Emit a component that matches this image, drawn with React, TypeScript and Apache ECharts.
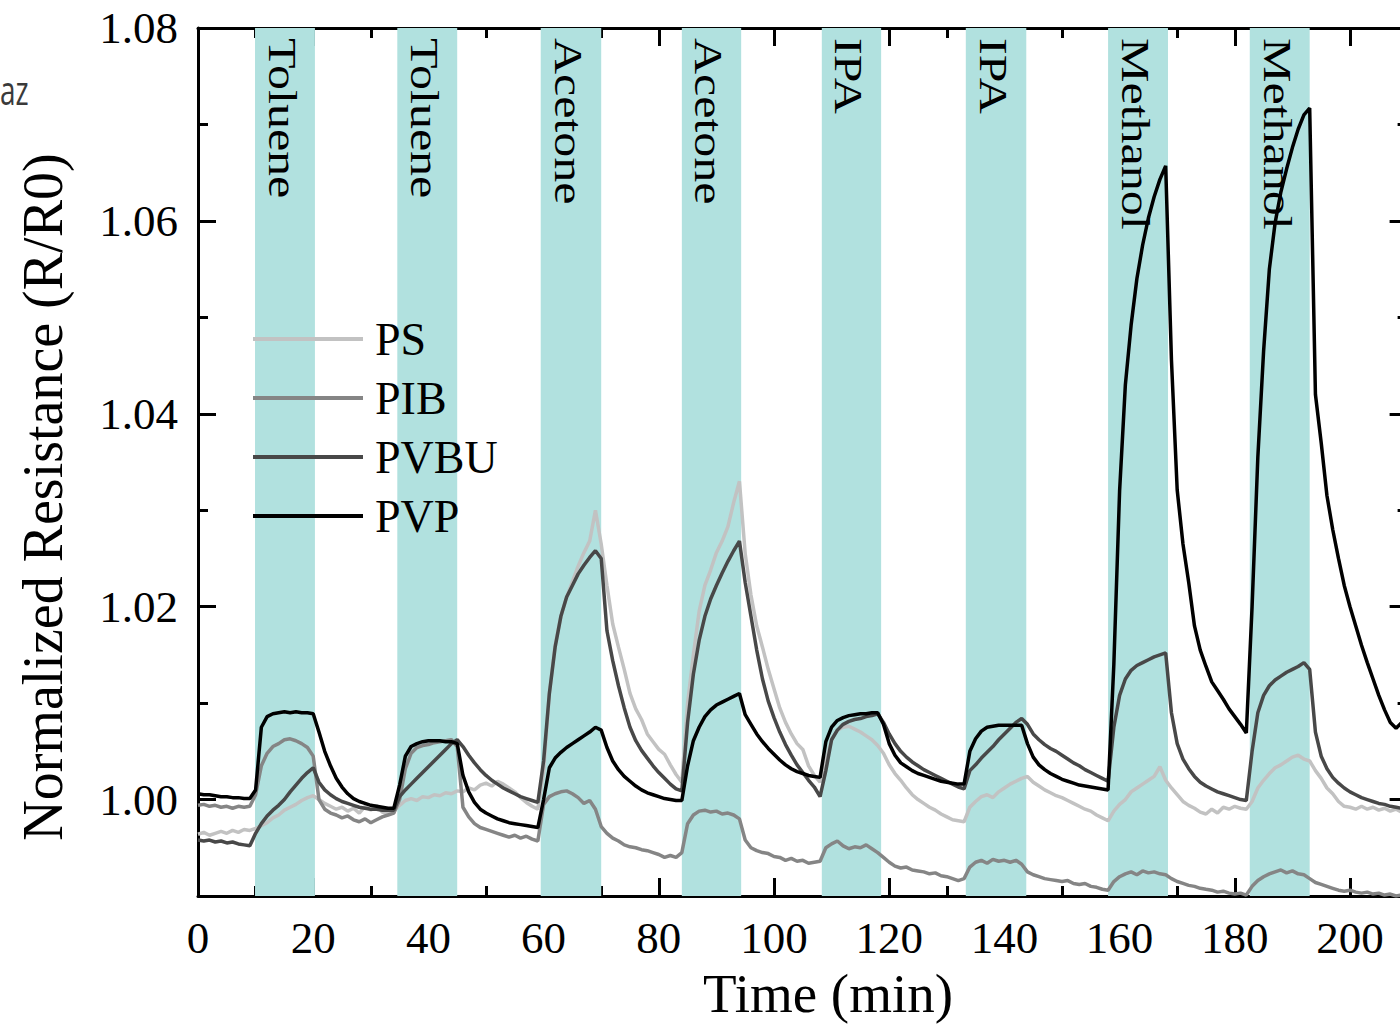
import React, { useEffect, useRef } from 'react';
import * as echarts from 'echarts';

// Time axis (min), one sample per minute
const TIME: number[] = Array.from({ length: 211 }, (_, i) => i);

// PS (light grey)
const PS = [
  0.9964, 0.9966, 0.9963, 0.9965, 0.9967, 0.9965, 0.9968, 0.9966, 0.9969, 0.9968,
  0.9970, 0.9973, 0.9976, 0.9981, 0.9984, 0.9989, 0.9992, 0.9995, 0.9999, 1.0002,
  1.0004, 1.0000, 0.9996, 0.9993, 0.9990, 0.9992, 0.9988, 0.9991, 0.9986, 0.9993,
  0.9989, 0.9994, 0.9987, 0.9985, 0.9988, 0.9994, 0.9999, 1.0001, 0.9999, 1.0003,
  1.0002, 1.0005, 1.0004, 1.0007, 1.0006, 1.0009, 1.0008, 1.0012, 1.0010, 1.0015,
  1.0017, 1.0014, 1.0019, 1.0016, 1.0012, 1.0008, 1.0002, 0.9997, 0.9993, 0.9990,
  1.0030, 1.0110, 1.0160, 1.0190, 1.0210, 1.0226, 1.0242, 1.0256, 1.0268, 1.0300,
  1.0265, 1.0222, 1.0182, 1.0158, 1.0135, 1.0110, 1.0094, 1.0083, 1.0068, 1.0060,
  1.0052, 1.0047, 1.0036, 1.0026, 1.0018, 1.0100, 1.0150, 1.0195, 1.0222, 1.0238,
  1.0256, 1.0268, 1.0283, 1.0308, 1.0330, 1.0255, 1.0212, 1.0180, 1.0158, 1.0135,
  1.0115, 1.0095, 1.0080, 1.0068, 1.0058, 1.0052, 1.0035, 1.0025, 1.0018, 1.0040,
  1.0062, 1.0072, 1.0075, 1.0076, 1.0073, 1.0070, 1.0066, 1.0062, 1.0056, 1.0048,
  1.0036, 1.0027, 1.0020, 1.0012, 1.0005, 1.0000, 0.9996, 0.9992, 0.9989, 0.9985,
  0.9982, 0.9979, 0.9978, 0.9977, 0.9992, 0.9998, 1.0003, 1.0005, 1.0002, 1.0008,
  1.0012, 1.0016, 1.0019, 1.0022, 1.0024, 1.0018, 1.0014, 1.0010, 1.0007, 1.0004,
  1.0002, 0.9999, 0.9996, 0.9993, 0.9990, 0.9988, 0.9984, 0.9981, 0.9978, 0.9988,
  0.9995, 1.0000, 1.0008, 1.0012, 1.0016, 1.0020, 1.0024, 1.0034, 1.0020, 1.0012,
  1.0005, 0.9998, 0.9994, 0.9991, 0.9987, 0.9985, 0.9990, 0.9986, 0.9992, 0.9990,
  0.9993, 0.9991, 0.9990, 0.9998, 1.0012, 1.0020, 1.0027, 1.0033, 1.0036, 1.0040,
  1.0044, 1.0046, 1.0042, 1.0040, 1.0030, 1.0022, 1.0012, 1.0006, 0.9998, 0.9993,
  0.9992, 0.9990, 0.9993, 0.9990, 0.9992, 0.9989, 0.9991, 0.9988, 0.9990, 0.9987,
  0.9988,
];

// PIB (mid grey)
const PIB = [
  0.9994, 0.9995, 0.9993, 0.9994, 0.9992, 0.9993, 0.9991, 0.9993, 0.9992, 0.9993,
  1.0005, 1.0035, 1.0048, 1.0055, 1.0058, 1.0062, 1.0063, 1.0061, 1.0058, 1.0054,
  1.0045, 1.0000, 0.9990, 0.9986, 0.9984, 0.9981, 0.9983, 0.9979, 0.9977, 0.9980,
  0.9976, 0.9979, 0.9982, 0.9984, 0.9986, 1.0000, 1.0032, 1.0048, 1.0054, 1.0056,
  1.0057, 1.0059, 1.0060, 1.0061, 1.0062, 1.0055, 0.9992, 0.9982, 0.9975, 0.9971,
  0.9969, 0.9967, 0.9965, 0.9963, 0.9961, 0.9963, 0.9960, 0.9962, 0.9959, 0.9957,
  0.9995, 1.0003, 1.0006, 1.0008, 1.0009, 1.0006, 1.0002, 0.9996, 0.9999, 0.9990,
  0.9972, 0.9965, 0.9960, 0.9957, 0.9953, 0.9951, 0.9950, 0.9948, 0.9947, 0.9945,
  0.9943, 0.9940, 0.9942, 0.9940, 0.9945, 0.9975, 0.9984, 0.9988, 0.9989, 0.9987,
  0.9988, 0.9985, 0.9986, 0.9984, 0.9980, 0.9958, 0.9950, 0.9947, 0.9945, 0.9944,
  0.9941, 0.9940, 0.9937, 0.9939, 0.9936, 0.9937, 0.9934, 0.9935, 0.9936, 0.9950,
  0.9954, 0.9957, 0.9952, 0.9949, 0.9951, 0.9950, 0.9953, 0.9949, 0.9945, 0.9940,
  0.9935, 0.9931, 0.9929, 0.9930, 0.9927, 0.9926, 0.9925, 0.9923, 0.9924, 0.9921,
  0.9920, 0.9918, 0.9916, 0.9918, 0.9930, 0.9935, 0.9937, 0.9934, 0.9938, 0.9936,
  0.9937, 0.9935, 0.9937, 0.9933, 0.9925, 0.9922, 0.9920, 0.9918, 0.9917, 0.9916,
  0.9915, 0.9916, 0.9913, 0.9912, 0.9913, 0.9910, 0.9909, 0.9907, 0.9906, 0.9915,
  0.9920, 0.9923, 0.9925, 0.9922, 0.9926, 0.9924, 0.9925, 0.9923, 0.9922, 0.9918,
  0.9915, 0.9913, 0.9911, 0.9910, 0.9908, 0.9907, 0.9906, 0.9904, 0.9905, 0.9903,
  0.9902, 0.9903, 0.9901, 0.9910, 0.9916, 0.9920, 0.9923, 0.9925, 0.9927, 0.9924,
  0.9926, 0.9923, 0.9922, 0.9918, 0.9914, 0.9912, 0.9910, 0.9908, 0.9906, 0.9905,
  0.9906, 0.9904, 0.9903, 0.9904, 0.9902, 0.9903, 0.9901, 0.9902, 0.9900, 0.9901,
  0.9900,
];

// PVBU (dark grey)
const PVBU = [
  0.9958, 0.9957, 0.9958, 0.9956, 0.9957, 0.9955, 0.9956, 0.9954, 0.9953, 0.9952,
  0.9965, 0.9975, 0.9983, 0.9989, 0.9994, 1.0000, 1.0008, 1.0015, 1.0022, 1.0028,
  1.0033, 1.0018, 1.0010, 1.0005, 1.0001, 0.9998, 0.9996, 0.9994, 0.9992, 0.9991,
  0.9990, 0.9990, 0.9989, 0.9989, 0.9989, 1.0003, 1.0010, 1.0016, 1.0022, 1.0028,
  1.0034, 1.0040, 1.0046, 1.0052, 1.0058, 1.0062, 1.0055, 1.0046, 1.0038, 1.0031,
  1.0025, 1.0020, 1.0016, 1.0012, 1.0009, 1.0006, 1.0003, 1.0001, 0.9999, 0.9997,
  1.0040, 1.0110, 1.0158, 1.0190, 1.0210, 1.0222, 1.0234, 1.0243, 1.0251, 1.0258,
  1.0250, 1.0175, 1.0144, 1.0118, 1.0095, 1.0075, 1.0061, 1.0051, 1.0043, 1.0035,
  1.0028, 1.0022, 1.0016, 1.0011, 1.0009, 1.0080, 1.0130, 1.0165, 1.0190, 1.0208,
  1.0222, 1.0235, 1.0247, 1.0258, 1.0268, 1.0225, 1.0190, 1.0155, 1.0125, 1.0102,
  1.0085, 1.0070, 1.0057, 1.0046, 1.0036, 1.0028, 1.0020, 1.0013, 1.0003, 1.0030,
  1.0062, 1.0072, 1.0078, 1.0081, 1.0083, 1.0084, 1.0086, 1.0087, 1.0089, 1.0080,
  1.0068, 1.0058, 1.0050, 1.0044, 1.0039, 1.0035, 1.0031, 1.0028, 1.0025, 1.0022,
  1.0019, 1.0016, 1.0013, 1.0011, 1.0030, 1.0036, 1.0043, 1.0049, 1.0055, 1.0062,
  1.0068, 1.0074, 1.0080, 1.0084, 1.0078, 1.0068, 1.0062, 1.0057, 1.0053, 1.0050,
  1.0046, 1.0042, 1.0038, 1.0035, 1.0031, 1.0028, 1.0025, 1.0022, 1.0019, 1.0075,
  1.0108, 1.0125, 1.0134, 1.0139, 1.0142, 1.0145, 1.0148, 1.0150, 1.0152, 1.0090,
  1.0058, 1.0042, 1.0032, 1.0024, 1.0018, 1.0014, 1.0011, 1.0008, 1.0006, 1.0004,
  1.0002, 1.0000, 0.9999, 1.0050, 1.0090, 1.0108, 1.0118, 1.0124, 1.0128, 1.0132,
  1.0135, 1.0138, 1.0142, 1.0135, 1.0070, 1.0045, 1.0032, 1.0023, 1.0017, 1.0012,
  1.0008, 1.0005, 1.0002, 1.0000, 0.9998, 0.9996, 0.9995, 0.9993, 0.9992, 0.9991,
  0.9991,
];

// PVP (black)
const PVP = [
  1.0006, 1.0005, 1.0005, 1.0004, 1.0003, 1.0003, 1.0002, 1.0002, 1.0001, 1.0001,
  1.0010, 1.0075, 1.0086, 1.0089, 1.0090, 1.0091, 1.0090, 1.0091, 1.0090, 1.0090,
  1.0089, 1.0070, 1.0050, 1.0035, 1.0022, 1.0013, 1.0006, 1.0001, 0.9998, 0.9996,
  0.9994, 0.9993, 0.9992, 0.9991, 0.9991, 1.0015, 1.0045, 1.0055, 1.0058, 1.0060,
  1.0061, 1.0061, 1.0061, 1.0060, 1.0060, 1.0058, 1.0025, 1.0008, 0.9997, 0.9990,
  0.9986, 0.9983, 0.9980, 0.9978, 0.9976, 0.9975, 0.9974, 0.9973, 0.9972, 0.9971,
  1.0000, 1.0033, 1.0043, 1.0049, 1.0054, 1.0058, 1.0062, 1.0066, 1.0070, 1.0075,
  1.0072, 1.0054, 1.0040, 1.0031, 1.0024, 1.0019, 1.0014, 1.0010, 1.0007, 1.0005,
  1.0003, 1.0001, 1.0000, 0.9999, 0.9999, 1.0035, 1.0061, 1.0075, 1.0086, 1.0093,
  1.0098, 1.0101, 1.0104, 1.0107, 1.0110, 1.0088, 1.0078, 1.0068, 1.0060, 1.0053,
  1.0047, 1.0041, 1.0036, 1.0032, 1.0029, 1.0027, 1.0025, 1.0024, 1.0023, 1.0060,
  1.0075, 1.0082, 1.0085, 1.0087, 1.0088, 1.0089, 1.0089, 1.0090, 1.0090, 1.0078,
  1.0058, 1.0046, 1.0038, 1.0034, 1.0030, 1.0027, 1.0025, 1.0023, 1.0021, 1.0019,
  1.0018, 1.0017, 1.0016, 1.0016, 1.0050, 1.0063, 1.0071, 1.0075, 1.0076, 1.0077,
  1.0077, 1.0077, 1.0077, 1.0077, 1.0058, 1.0044, 1.0036, 1.0031, 1.0027, 1.0024,
  1.0021, 1.0019, 1.0017, 1.0015, 1.0014, 1.0013, 1.0012, 1.0011, 1.0010, 1.0140,
  1.0320, 1.0430, 1.0492, 1.0540, 1.0575, 1.0603, 1.0625, 1.0643, 1.0657, 1.0456,
  1.0321, 1.0265, 1.0225, 1.0180, 1.0155, 1.0138, 1.0122, 1.0113, 1.0104, 1.0094,
  1.0086, 1.0078, 1.0069, 1.0200, 1.0355, 1.0465, 1.0550, 1.0598, 1.0630, 1.0654,
  1.0676, 1.0695, 1.0710, 1.0717, 1.0420, 1.0370, 1.0315, 1.0280, 1.0250, 1.0222,
  1.0200, 1.0180, 1.0160, 1.0142, 1.0125, 1.0108, 1.0093, 1.0080, 1.0074, 1.0080,
  1.0088,
];

const SERIES_NAMES = ['PS', 'PIB', 'PVBU', 'PVP'];
const SERIES_VALUES = [PS, PIB, PVBU, PVP];
const SERIES_COLORS = ['#c2c2c2', '#858585', '#484848', '#000000'];

// Gas exposure windows (min)
const BAND_START = [9.9, 34.6, 59.5, 84.0, 108.3, 133.3, 158.0, 182.6];
const BAND_END = [20.3, 45.0, 70.0, 94.3, 118.6, 143.8, 168.4, 193.0];
const BAND_LABELS = ['Toluene', 'Toluene', 'Acetone', 'Acetone', 'IPA', 'IPA', 'Methanol', 'Methanol'];

// Tick values
const X_MAJOR = [0, 20, 40, 60, 80, 100, 120, 140, 160, 180, 200];
const X_MINOR = [10, 30, 50, 70, 90, 110, 130, 150, 170, 190, 210];
const Y_MAJOR = [1.0, 1.02, 1.04, 1.06, 1.08];
const Y_MINOR = [0.99, 1.01, 1.03, 1.05, 1.07];

const X_MIN = 0;
const X_MAX = 210;
const Y_MIN = 0.99;
const Y_MAX = 1.08;

const SERIF = '"Liberation Serif", "Times New Roman", serif';

function xAxisDef(position: 'top' | 'bottom', ticks: number[], len: number, line: boolean, labels: boolean) {
  return {
    type: 'value',
    position,
    min: X_MIN,
    max: X_MAX,
    interval: 10,
    axisLine: { show: line, onZero: false, lineStyle: { color: '#000', width: 3 } },
    axisTick: { show: true, inside: true, length: len, customValues: ticks, lineStyle: { color: '#000', width: 3 } },
    axisLabel: labels
      ? { show: true, customValues: X_MAJOR, fontSize: 45, fontFamily: SERIF, color: '#000', margin: 19 }
      : { show: false },
    splitLine: { show: false },
  };
}

function yAxisDef(position: 'left' | 'right', ticks: number[], len: number, line: boolean, labels: boolean) {
  return {
    type: 'value',
    position,
    min: Y_MIN,
    max: Y_MAX,
    interval: 0.01,
    axisLine: { show: line, onZero: false, lineStyle: { color: '#000', width: 3 } },
    axisTick: { show: true, inside: true, length: len, customValues: ticks, lineStyle: { color: '#000', width: 3 } },
    axisLabel: labels
      ? {
          show: true,
          customValues: Y_MAJOR,
          fontSize: 45,
          fontFamily: SERIF,
          color: '#000',
          margin: 20,
          formatter: (v: number) => v.toFixed(2),
        }
      : { show: false },
    splitLine: { show: false },
  };
}

export default function App() {
  const ref = useRef<HTMLDivElement>(null);

  useEffect(() => {
    if (!ref.current) return;
    const chart = echarts.init(ref.current, null, { renderer: 'svg' });

    const bandData = BAND_START.map((s, i) => [s, BAND_END[i]]);

    const lineSeries = SERIES_NAMES.map((name, k) => ({
      name,
      type: 'line',
      xAxisIndex: 0,
      yAxisIndex: 0,
      data: TIME.map((t, i) => [t, SERIES_VALUES[k][i]]),
      showSymbol: false,
      symbol: 'none',
      lineStyle: { color: SERIES_COLORS[k], width: 3.5 },
      itemStyle: { color: SERIES_COLORS[k] },
      z: 3 + k,
      silent: true,
    }));

    const option: any = {
      animation: false,
      backgroundColor: '#ffffff',
      grid: { left: 198, top: 28, right: 12.4, bottom: 128, containLabel: false },
      xAxis: [
        xAxisDef('bottom', X_MAJOR, 18, true, true),
        xAxisDef('bottom', X_MINOR, 10, false, false),
        xAxisDef('top', X_MAJOR, 18, true, false),
        xAxisDef('top', X_MINOR, 10, false, false),
      ],
      yAxis: [
        yAxisDef('left', Y_MAJOR, 18, true, true),
        yAxisDef('left', Y_MINOR, 10, false, false),
        yAxisDef('right', Y_MAJOR, 18, true, false),
        yAxisDef('right', Y_MINOR, 10, false, false),
      ],
      legend: {
        data: SERIES_NAMES.map((n, k) => ({ name: n, itemStyle: { color: SERIES_COLORS[k] } })),
        orient: 'vertical',
        left: 253,
        top: 316,
        padding: 0,
        icon: 'rect',
        itemWidth: 110,
        itemHeight: 4,
        itemGap: 13,
        selectedMode: false,
        textStyle: {
          fontSize: 46,
          lineHeight: 46,
          fontFamily: SERIF,
          color: '#000',
          padding: [0, 0, 0, 7],
        },
      },
      graphic: [
        {
          type: 'text',
          x: 828,
          y: 993,
          style: {
            text: 'Time (min)',
            fontSize: 55,
            fontFamily: SERIF,
            fill: '#000',
            align: 'center',
            verticalAlign: 'middle',
          },
        },
        {
          type: 'text',
          x: 43,
          y: 497,
          rotation: Math.PI / 2,
          style: {
            text: 'Normalized Resistance (R/R0)',
            fontSize: 56,
            fontFamily: SERIF,
            fill: '#000',
            align: 'center',
            verticalAlign: 'middle',
          },
        },
        {
          type: 'text',
          x: 0,
          y: 89,
          scaleX: 0.7,
          style: {
            text: 'az',
            fontSize: 40,
            fontFamily: '"Open Sans", "Noto Sans", sans-serif',
            fill: '#3a3a3a',
            align: 'left',
            verticalAlign: 'middle',
          },
        },
      ],
      series: [
        {
          type: 'custom',
          name: 'bands',
          xAxisIndex: 0,
          yAxisIndex: 0,
          z: 1,
          silent: true,
          data: bandData,
          encode: { x: [0, 1] },
          renderItem: (params: any, api: any) => {
            const x0 = api.coord([api.value(0), Y_MIN])[0];
            const x1 = api.coord([api.value(1), Y_MIN])[0];
            const yTop = api.coord([api.value(0), Y_MAX])[1];
            const yBot = api.coord([api.value(0), Y_MIN])[1];
            const label = BAND_LABELS[params.dataIndex];
            return {
              type: 'group',
              children: [
                {
                  type: 'rect',
                  shape: { x: x0, y: yTop, width: x1 - x0, height: yBot - yTop },
                  style: { fill: '#b1e1df' },
                },
                {
                  type: 'text',
                  x: (x0 + x1) / 2 - 3,
                  y: yTop + 10,
                  rotation: -Math.PI / 2,
                  scaleY: 0.78,
                  style: {
                    text: label,
                    fontSize: 50,
                    fontFamily: SERIF,
                    fill: '#000',
                    align: 'left',
                    verticalAlign: 'middle',
                  },
                },
              ],
            };
          },
        },
        ...lineSeries,
      ],
    };

    chart.setOption(option);
    return () => chart.dispose();
  }, []);

  return (
    <div
      style={{
        position: 'fixed',
        left: 0,
        top: 0,
        width: 1400,
        height: 1024,
        overflow: 'hidden',
        background: '#ffffff',
      }}
    >
      <div ref={ref} style={{ width: 1420, height: 1024 }} />
    </div>
  );
}
